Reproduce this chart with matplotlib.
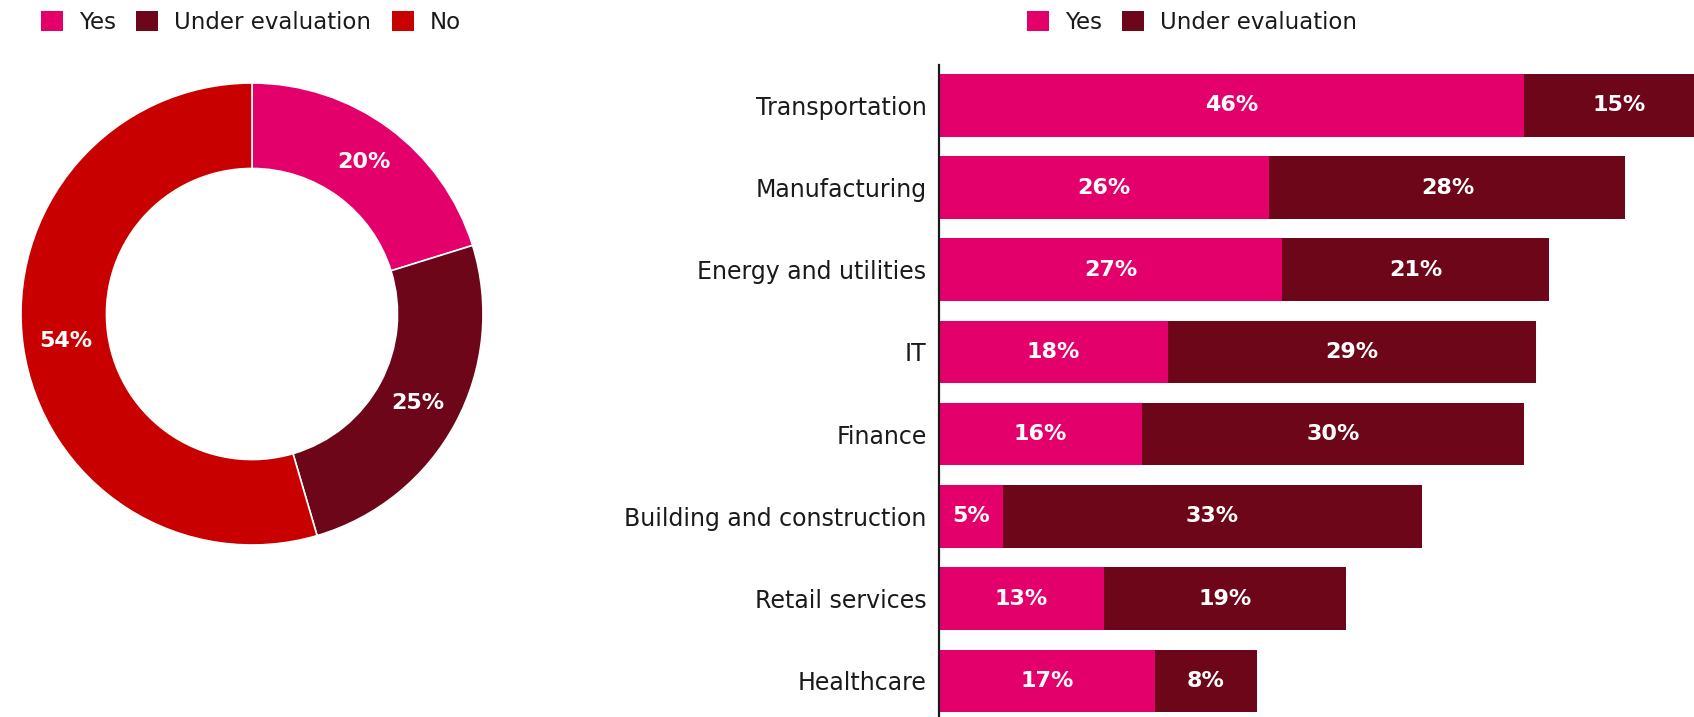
import matplotlib
matplotlib.use("Agg")
import matplotlib.pyplot as plt
from matplotlib.patches import Patch
import numpy as np

plt.rcParams["font.family"] = ["DejaVu Sans"]

# colours
YES = "#E4006A"
EVAL = "#6D0619"
NO = "#C80000"

# donut: overall adoption
donut_labels = ["Yes", "Under evaluation", "No"]
donut_values = [20, 25, 54]

# stacked bars: adoption by sector
sectors = [
    "Transportation",
    "Manufacturing",
    "Energy and utilities",
    "IT",
    "Finance",
    "Building and construction",
    "Retail services",
    "Healthcare",
]
yes_vals = [46, 26, 27, 18, 16, 5, 13, 17]
eval_vals = [15, 28, 21, 29, 30, 33, 19, 8]

W, H = 1694, 717
fig = plt.figure(figsize=(W / 100, H / 100), dpi=100)

# ---- donut ----
cx, cy, r = 252, 314, 231
ax1 = fig.add_axes([(cx - r) / W, (H - cy - r) / H, 2 * r / W, 2 * r / H])
wedges, _ = ax1.pie(
    donut_values,
    colors=[YES, EVAL, NO],
    startangle=90,
    counterclock=False,
    radius=1.0,
    wedgeprops=dict(width=0.37, edgecolor="white", linewidth=1.2),
)
total = sum(donut_values)
start = 90.0
for v in donut_values:
    mid = np.deg2rad(start - v / total * 360 / 2)
    ax1.text(0.815 * np.cos(mid), 0.815 * np.sin(mid), f"{v}%",
             ha="center", va="center", color="white",
             fontsize=16, fontweight="bold")
    start -= v / total * 360
ax1.set_xlim(-1, 1)
ax1.set_ylim(-1, 1)
ax1.set_aspect("equal")
ax1.axis("off")

# ---- stacked bars ----
ax2 = fig.add_axes([939 / W, 0, 1 - 939 / W, 1 - 65 / H])
y = np.arange(len(sectors))
ax2.barh(y, yes_vals, height=0.76, color=YES)
ax2.barh(y, eval_vals, left=yes_vals, height=0.76, color=EVAL)
for i, (a, b) in enumerate(zip(yes_vals, eval_vals)):
    ax2.text(a / 2, i, f"{a}%", ha="center", va="center", color="white",
             fontsize=16, fontweight="bold")
    ax2.text(a + b / 2, i, f"{b}%", ha="center", va="center", color="white",
             fontsize=16, fontweight="bold")
ax2.set_xlim(0, 59.4)
ax2.set_ylim(len(sectors) - 1 + 0.44, -0.49)
ax2.set_yticks(y)
ax2.set_yticklabels(sectors, fontsize=17, color="#1a1a1a")
ax2.tick_params(axis="y", length=0, pad=9)
ax2.set_xticks([])
for s in ["top", "right", "bottom"]:
    ax2.spines[s].set_visible(False)
ax2.spines["left"].set_linewidth(1.6)
ax2.spines["left"].set_color("#1a1a1a")

# ---- legends ----
def legend_at(x, labels, colors):
    handles = [Patch(facecolor=c, edgecolor="none") for c in colors]
    fig.legend(handles, labels, loc="center left",
               bbox_to_anchor=(x / W, 1 - 22.5 / H), ncol=len(labels),
               frameon=False, fontsize=16.5, borderpad=0, borderaxespad=0,
               handlelength=0.95, handleheight=0.95, handletextpad=0.7,
               columnspacing=0.9, labelcolor="#1a1a1a")

legend_at(41, donut_labels, [YES, EVAL, NO])
legend_at(1027, donut_labels[:2], [YES, EVAL])

fig.savefig("out.png", dpi=100)
